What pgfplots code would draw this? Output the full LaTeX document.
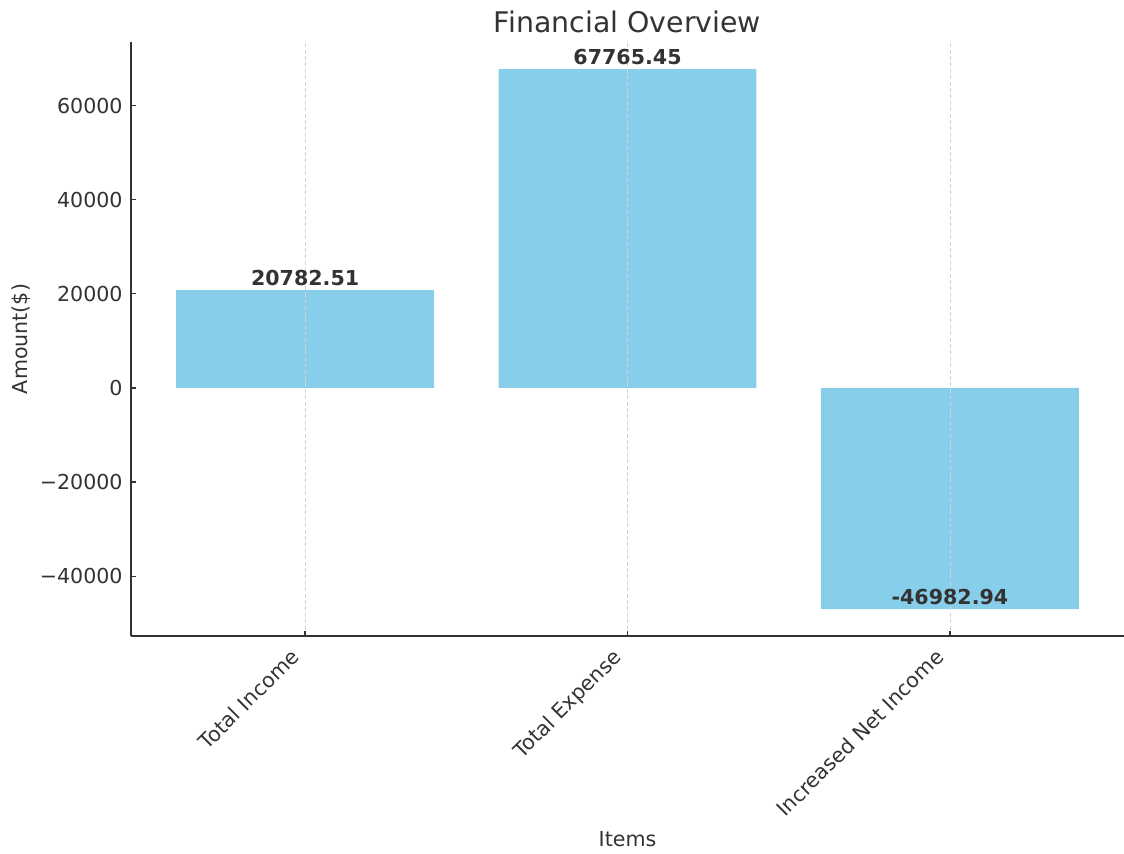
\documentclass[border=0pt]{standalone}
\usepackage{pgfplots}
\pgfplotsset{compat=1.18}
\usepackage{pgfplotstable}
\usepackage{fontspec}
\setmainfont{DejaVu Sans}
\definecolor{skyblue}{RGB}{135,206,235}
\definecolor{txt}{RGB}{51,51,51}
\pgfplotstableread{
x y label
0 20782.51 20782.51
1 67765.45 67765.45
2 -46982.94 -46982.94
}\datatable
\begin{document}
\begin{tikzpicture}
\begin{axis}[
  scale only axis, width=496.5pt, height=297pt,
  xmin=-0.54, xmax=2.54, ymin=-52720, ymax=73503,
  scaled y ticks=false,
  axis x line*=bottom, axis y line*=left,
  axis line style={txt, line width=0.65pt},
  tick style={txt, line width=0.6pt}, tick align=inside, major tick length=2.5pt,
  xtick={0,1,2}, xticklabels={Total Income, Total Expense, Increased Net Income},
  ytick={-40000,-20000,0,20000,40000,60000},
  yticklabels={−40000,−20000,0,20000,40000,60000},
  ticklabel style={font=\fontsize{10.3}{12}\selectfont, text=txt},
  yticklabel style={inner sep=0pt, xshift=-4pt},
  xticklabel style={inner sep=0pt, xshift=-8pt, yshift=-5.5pt, rotate=45, anchor=north east},
  xmajorgrids, major grid style={gray!35, dash pattern=on 2pt off 1.2pt, line width=0.4pt},
  axis on top,
  title={Financial Overview},
  every axis title/.style={at={(0.5,1)}, anchor=base, yshift=5pt, font=\fontsize{14.2}{16}\selectfont, text=txt},
  xlabel={Items},
  xlabel style={at={(axis description cs:0.5,-0.3552)}, anchor=base, font=\fontsize{10.3}{12}\selectfont, text=txt},
  ylabel={Amount(\$)},
  ylabel style={at={(axis description cs:-0.1047,0.5)}, anchor=base, rotate=0, font=\fontsize{10.3}{12}\selectfont, text=txt},
]
\addplot[ybar, bar width=0.8, fill=skyblue, draw=none] table[x=x, y=y] {\datatable};
\addplot[draw=none, mark=none, nodes near coords, point meta=explicit symbolic,
  every node near coord/.append style={anchor=base, yshift=2.5pt, inner sep=0pt,
  font=\fontsize{10.3}{12}\selectfont\bfseries, text=txt}]
  table[x=x, y=y, meta=label] {\datatable};
\coordinate (bl) at (rel axis cs:0,0);
\end{axis}
\pgfresetboundingbox
\path[use as bounding box] ([shift={(-65.5pt,-108.5pt)}]bl) rectangle ([shift={(496.5pt,318pt)}]bl);
\end{tikzpicture}
\end{document}
